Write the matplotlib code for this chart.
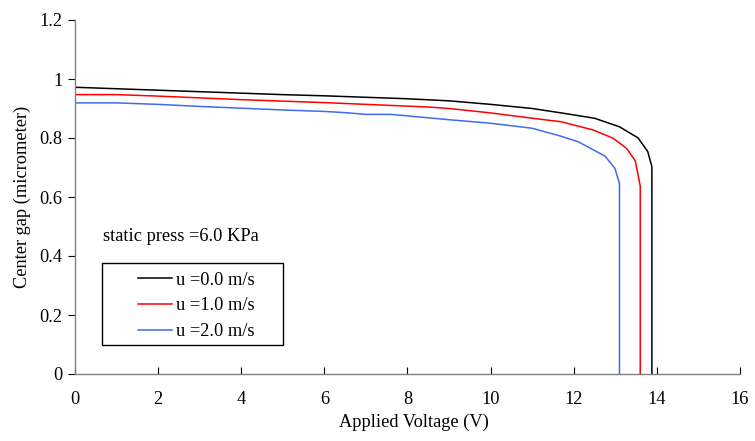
import matplotlib.pyplot as plt
from matplotlib.patches import Rectangle

plt.rcParams['font.family'] = ['Liberation Serif', 'DejaVu Serif']

# applied voltage (V) / center gap (micrometer)
v_u0 = [0, 1, 2, 3, 4, 5, 6, 7, 8, 9, 10, 11, 11.7, 12.5, 13.1, 13.55, 13.78, 13.88, 13.88]
g_u0 = [0.972, 0.967, 0.962, 0.957, 0.952, 0.947, 0.943, 0.938, 0.933, 0.926, 0.914, 0.900,
        0.885, 0.867, 0.838, 0.800, 0.754, 0.703, 0.0]

v_u1 = [0, 1, 2, 3, 4, 5, 6, 7, 8, 8.5, 9, 10, 11, 11.7, 12.47, 12.95, 13.27, 13.48, 13.60, 13.60]
g_u1 = [0.947, 0.947, 0.942, 0.936, 0.930, 0.925, 0.920, 0.914, 0.908, 0.905, 0.900, 0.885,
        0.867, 0.855, 0.827, 0.799, 0.765, 0.723, 0.637, 0.0]

v_u2 = [0, 1, 2, 3, 4, 5, 6, 6.5, 7, 7.6, 8, 9, 10, 11, 11.67, 12.11, 12.75, 12.99, 13.10, 13.10]
g_u2 = [0.919, 0.919, 0.914, 0.907, 0.901, 0.895, 0.890, 0.886, 0.880, 0.880, 0.875, 0.862,
        0.850, 0.833, 0.807, 0.787, 0.739, 0.697, 0.646, 0.0]

labels = ['u =0.0 m/s', 'u =1.0 m/s', 'u =2.0 m/s']
colors = ['black', '#ff0000', '#3c6cf0']
FS = 13.2

fig = plt.figure(figsize=(7.55, 4.41), dpi=100)
ax = fig.add_axes([75 / 755, 1 - 374 / 441, 665 / 755, 354 / 441])

for v, g, lab, c in zip([v_u0, v_u1, v_u2], [g_u0, g_u1, g_u2], labels, colors):
    ax.plot(v, g, color=c, lw=1.1, label=lab)

ax.set_xlim(0, 16)
ax.set_ylim(0, 1.2)
ax.set_xticks(range(0, 17, 2))
ax.set_yticks([0, 0.2, 0.4, 0.6, 0.8, 1.0, 1.2])
ax.set_yticklabels(['0', '0.2', '0.4', '0.6', '0.8', '1', '1.2'])

for s in ['top', 'right']:
    ax.spines[s].set_visible(False)
for s in ['left', 'bottom']:
    ax.spines[s].set_color('#808080')
    ax.spines[s].set_linewidth(1.0)

ax.tick_params(axis='x', direction='in', length=5, width=0.8, labelsize=FS, pad=12.5)
ax.tick_params(axis='y', direction='out', length=5, width=0.8, labelsize=FS, pad=4)

ax.set_xlabel('Applied Voltage (V)', fontsize=FS)
ax.xaxis.set_label_coords(0.51, -0.112)
ax.set_ylabel('Center gap (micrometer)', fontsize=FS, labelpad=6)

ax.text(0.0416, 0.388, 'static press =6.0 KPa', transform=ax.transAxes,
        fontsize=FS, va='center', ha='left')

ax.add_patch(Rectangle((0.041, 0.0819), 0.272, 0.2325, transform=ax.transAxes,
                       fill=False, edgecolor='black', lw=1.0, clip_on=False))
ax.legend(loc='upper left', bbox_to_anchor=(0.0947, 0.289), frameon=False,
          borderaxespad=0, borderpad=0, fontsize=FS, handlelength=1.85,
          handletextpad=0.22, labelspacing=0.48)

fig.savefig('out.png', dpi=100)
